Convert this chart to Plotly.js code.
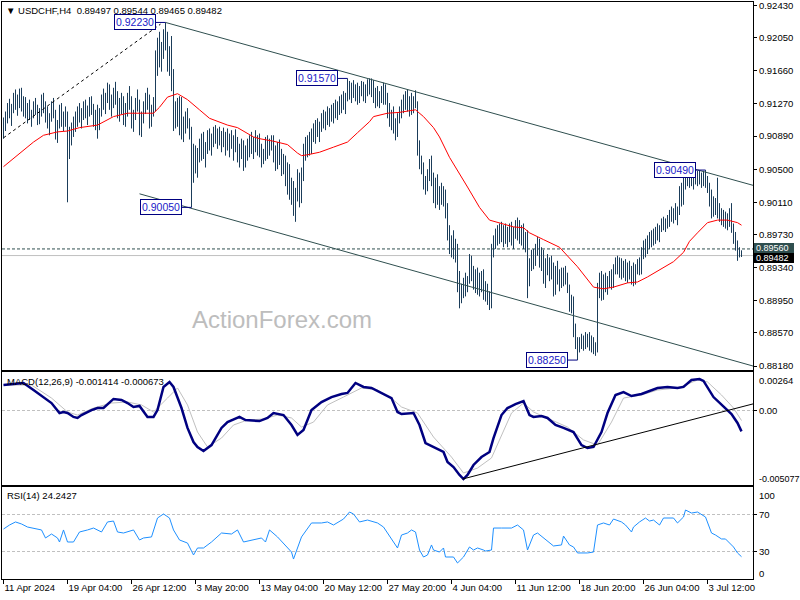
<!DOCTYPE html>
<html><head><meta charset="utf-8">
<script src="https://cdn.plot.ly/plotly-3.0.1.min.js"></script>
<style>html,body{margin:0;padding:0;background:#fff;}#chart{width:800px;height:600px;}</style>
</head><body><div id="chart"></div>
<script>
const symbol = "USDCHF,H4";
const open = [
.9090,.9105,.9112,.9122,.9115,.9120,.9135,.9125,.9130,.9140,
.9124,.9128,.9115,.9122,.9112,.9116,.9125,.9118,.9108,.9118,
.9130,.9122,.9110,.9102,.9112,.9125,.9114,.9092,.9104,.9120,
.9106,.9112,.9108,.9080,.9092,.9098,.9105,.9110,.9118,.9110,
.9115,.9124,.9116,.9120,.9128,.9118,.9106,.9114,.9100,.9118,
.9132,.9126,.9136,.9140,.9125,.9130,.9140,.9132,.9118,.9128,
.9122,.9110,.9124,.9132,.9126,.9104,.9115,.9128,.9124,.9100,
.9112,.9122,.9134,.9128,.9108,.9120,.9130,.9180,.9195,.9178,
.9192,.9205,.9200,.9172,.9185,.9150,.9110,.9120,.9108,.9125,
.9095,.9104,.9110,.9102,.9098,.9045,.9066,.9055,.9070,.9064,
.9085,.9070,.9078,.9088,.9080,.9086,.9094,.9088,.9092,.9084,
.9090,.9082,.9088,.9080,.9086,.9078,.9084,.9076,.9066,.9072,
.9068,.9058,.9070,.9076,.9080,.9074,.9082,.9078,.9084,.9070,
.9060,.9068,.9082,.9070,.9080,.9088,.9066,.9056,.9076,.9062,
.9050,.9060,.9036,.9050,.9022,.9030,.9004,.9020,.9040,.9015,
.9045,.9070,.9078,.9084,.9072,.9090,.9096,.9100,.9094,.9102,
.9110,.9104,.9114,.9108,.9118,.9112,.9122,.9116,.9126,.9120,
.9134,.9128,.9132,.9150,.9138,.9146,.9140,.9144,.9132,.9142,
.9148,.9136,.9144,.9150,.9142,.9150,.9134,.9140,.9128,.9136,
.9132,.9146,.9134,.9118,.9108,.9114,.9100,.9098,.9110,.9118,
.9126,.9130,.9136,.9124,.9130,.9120,.9132,.9126,.9072,.9060,
.9052,.9032,.9036,.9044,.9056,.9038,.9018,.9030,.9014,.9024,
.9016,.9022,.8998,.8972,.8960,.8966,.8952,.8958,.8912,.8898,
.8905,.8916,.8910,.8920,.8940,.8925,.8918,.8926,.8910,.8920,
.8912,.8904,.8912,.8898,.8895,.8955,.8966,.8974,.8970,.8980,
.8972,.8978,.8968,.8976,.8980,.8966,.8978,.8974,.8984,.8970,
.8978,.8962,.8970,.8920,.8938,.8948,.8940,.8956,.8962,.8942,
.8950,.8922,.8938,.8932,.8940,.8926,.8910,.8928,.8920,.8926,
.8916,.8928,.8920,.8910,.8890,.8896,.8860,.8846,.8840,.8846,
.8842,.8850,.8844,.8852,.8840,.8848,.8836,.8840,.8905,.8922,
.8902,.8918,.8912,.8918,.8924,.8914,.8932,.8940,.8934,.8940,
.8928,.8936,.8924,.8934,.8926,.8930,.8918,.8932,.8940,.8930,
.8952,.8960,.8954,.8966,.8962,.8972,.8966,.8978,.8972,.8980,
.8988,.8984,.8990,.8986,.8998,.8994,.9000,.8996,.9002,.9024,
.9012,.9036,.9042,.9036,.9040,.9034,.9040,.9038,.9044,.9036,
.9042,.9034,.9038,.9028,.9012,.9000,.9010,.9002,.9004,.8996,
.8990,.8996,.8986,.8992,.8988,.8980,.8968,.8960,.8950,.89497];
const high = [
.9111,.9118,.9128,.9133,.9127,.9140,.9144,.9138,.9145,.9146,
.9136,.9135,.9128,.9132,.9120,.9130,.9134,.9126,.9122,.9138,
.9140,.9130,.9124,.9116,.9130,.9134,.9120,.9108,.9126,.9128,
.9118,.9124,.9118,.9100,.9105,.9112,.9118,.9124,.9128,.9122,
.9130,.9132,.9125,.9135,.9136,.9127,.9120,.9126,.9122,.9138,
.9145,.9140,.9152,.9150,.9138,.9146,.9153,.9142,.9134,.9140,
.9136,.9128,.9140,.9148,.9136,.9120,.9134,.9144,.9132,.9118,
.9130,.9140,.9146,.9138,.9126,.9135,.9190,.9205,.9212,.9200,
.9215,.9223,.9212,.9195,.9207,.9168,.9130,.9134,.9136,.9135,
.9112,.9118,.9122,.9110,.9100,.9080,.9078,.9075,.9086,.9092,
.9094,.9082,.9096,.9098,.9092,.9100,.9102,.9098,.9100,.9095,
.9099,.9094,.9098,.9092,.9096,.9090,.9097,.9088,.9080,.9086,
.9084,.9078,.9086,.9090,.9094,.9088,.9096,.9090,.9092,.9080,
.9074,.9088,.9090,.9086,.9090,.9090,.9078,.9082,.9085,.9074,
.9068,.9066,.9058,.9056,.9040,.9036,.9028,.9050,.9046,.9052,
.9080,.9088,.9090,.9094,.9098,.9104,.9108,.9110,.9106,.9116,
.9120,.9118,.9124,.9122,.9126,.9128,.9132,.9130,.9136,.9138,
.9142,.9140,.9157,.9154,.9152,.9155,.9150,.9152,.9148,.9154,
.9153,.9150,.9156,.9157,.9157,.9155,.9146,.9148,.9142,.9148,
.9152,.9150,.9140,.9128,.9120,.9124,.9110,.9116,.9124,.9132,
.9138,.9142,.9144,.9136,.9140,.9136,.9143,.9130,.9084,.9066,
.9058,.9042,.9050,.9062,.9066,.9046,.9040,.9044,.9030,.9034,
.9030,.9026,.9010,.8984,.8972,.8978,.8968,.8962,.8930,.8915,
.8922,.8928,.8924,.8950,.8948,.8936,.8932,.8934,.8928,.8930,
.8932,.8918,.8915,.8906,.8962,.8972,.8980,.8984,.8986,.8988,
.8984,.8986,.8982,.8986,.8988,.8982,.8990,.8993,.8990,.8984,
.8986,.8976,.8978,.8945,.8955,.8956,.8962,.8970,.8968,.8958,
.8955,.8945,.8950,.8946,.8948,.8940,.8936,.8942,.8932,.8934,
.8934,.8936,.8928,.8914,.8902,.8900,.8868,.8852,.8852,.8856,
.8854,.8858,.8856,.8858,.8854,.8852,.8846,.8916,.8928,.8930,
.8926,.8928,.8924,.8930,.8932,.8938,.8946,.8948,.8946,.8945,
.8942,.8944,.8940,.8942,.8936,.8940,.8938,.8944,.8946,.8958,
.8966,.8968,.8972,.8976,.8978,.8980,.8982,.8986,.8984,.8992,
.8994,.8992,.8996,.9002,.9006,.9004,.9010,.9006,.9030,.9034,
.9040,.9048,.9048,.9046,.9048,.9044,.9047,.9048,.9048,.9046,
.9048,.9049,.9042,.9034,.9026,.9018,.9016,.9040,.9010,.9004,
.9002,.9000,.8998,.9004,.9010,.8986,.8976,.8966,.8958,.89544];
const low = [
.9086,.9095,.9104,.9110,.9101,.9116,.9120,.9113,.9122,.9118,
.9112,.9110,.9104,.9108,.9100,.9110,.9114,.9102,.9103,.9112,
.9116,.9105,.9098,.9090,.9106,.9110,.9085,.9081,.9098,.9100,
.9095,.9100,.9011,.9062,.9078,.9088,.9094,.9100,.9105,.9098,
.9108,.9110,.9102,.9112,.9114,.9100,.9096,.9086,.9096,.9112,
.9120,.9115,.9128,.9120,.9112,.9122,.9126,.9110,.9106,.9115,
.9102,.9100,.9112,.9120,.9098,.9094,.9108,.9118,.9090,.9088,
.9104,.9115,.9120,.9098,.9100,.9112,.9118,.9160,.9170,.9165,
.9180,.9190,.9165,.9160,.9142,.9095,.9098,.9100,.9090,.9085,
.9082,.9092,.9098,.9085,.9005,.9034,.9045,.9040,.9058,.9060,
.9062,.9052,.9068,.9072,.9066,.9076,.9080,.9074,.9078,.9070,
.9076,.9066,.9072,.9064,.9074,.9060,.9070,.9058,.9052,.9062,
.9048,.9052,.9060,.9064,.9068,.9062,.9070,.9066,.9064,.9052,
.9056,.9060,.9062,.9066,.9072,.9058,.9048,.9050,.9055,.9042,
.9044,.9030,.9020,.9014,.9008,.8995,.8988,.9012,.9005,.9010,
.9036,.9060,.9064,.9066,.9068,.9082,.9080,.9088,.9082,.9094,
.9098,.9096,.9102,.9100,.9106,.9104,.9110,.9108,.9114,.9116,
.9120,.9115,.9130,.9132,.9128,.9134,.9130,.9126,.9128,.9136,
.9130,.9128,.9136,.9138,.9135,.9128,.9122,.9124,.9122,.9128,
.9126,.9126,.9110,.9100,.9096,.9092,.9084,.9088,.9104,.9110,
.9116,.9120,.9118,.9112,.9114,.9116,.9122,.9066,.9050,.9044,
.9026,.9020,.9024,.9036,.9030,.9010,.9004,.9008,.9002,.9008,
.9006,.8992,.8966,.8950,.8946,.8944,.8940,.8905,.8886,.8892,
.8898,.8900,.8905,.8915,.8918,.8908,.8904,.8902,.8900,.8905,
.8896,.8894,.8890,.8884,.8886,.8946,.8956,.8960,.8962,.8964,
.8958,.8962,.8958,.8964,.8960,.8956,.8968,.8966,.8962,.8960,
.8956,.8952,.8898,.8912,.8930,.8932,.8936,.8948,.8934,.8930,
.8915,.8910,.8925,.8918,.8920,.8900,.8902,.8914,.8906,.8910,
.8912,.8914,.8904,.8882,.8880,.8852,.8838,.8825,.8834,.8838,
.8836,.8838,.8840,.8836,.8834,.8832,.8830,.8834,.8898,.8895,
.8896,.8905,.8902,.8910,.8908,.8910,.8926,.8926,.8922,.8920,
.8922,.8918,.8916,.8920,.8914,.8912,.8914,.8926,.8925,.8926,
.8944,.8946,.8950,.8956,.8958,.8960,.8962,.8966,.8964,.8976,
.8978,.8976,.8980,.8982,.8988,.8986,.8990,.8984,.8996,.9006,
.9008,.9026,.9030,.9028,.9030,.9026,.9032,.9030,.9032,.9028,
.9030,.9028,.9022,.9006,.8992,.8994,.8996,.8992,.8988,.8984,
.8982,.8980,.8978,.8982,.8975,.8962,.8954,.8942,.8946,.89465];
const close = [
.9105,.9112,.9122,.9115,.9120,.9135,.9125,.9130,.9140,.9124,
.9128,.9115,.9122,.9112,.9116,.9125,.9118,.9108,.9118,.9130,
.9122,.9110,.9102,.9112,.9125,.9114,.9092,.9104,.9120,.9106,
.9112,.9108,.9080,.9092,.9098,.9105,.9110,.9118,.9110,.9115,
.9124,.9116,.9120,.9128,.9118,.9106,.9114,.9100,.9118,.9132,
.9126,.9136,.9140,.9125,.9130,.9140,.9132,.9118,.9128,.9122,
.9110,.9124,.9132,.9126,.9104,.9115,.9128,.9124,.9100,.9112,
.9122,.9134,.9128,.9108,.9120,.9130,.9180,.9195,.9178,.9192,
.9205,.9200,.9172,.9185,.9150,.9110,.9120,.9108,.9125,.9095,
.9104,.9110,.9102,.9098,.9045,.9066,.9055,.9070,.9064,.9085,
.9070,.9078,.9088,.9080,.9086,.9094,.9088,.9092,.9084,.9090,
.9082,.9088,.9080,.9086,.9078,.9084,.9076,.9066,.9072,.9068,
.9058,.9070,.9076,.9080,.9074,.9082,.9078,.9084,.9070,.9060,
.9068,.9082,.9070,.9080,.9088,.9066,.9056,.9076,.9062,.9050,
.9060,.9036,.9050,.9022,.9030,.9004,.9020,.9040,.9015,.9045,
.9070,.9078,.9084,.9072,.9090,.9096,.9100,.9094,.9102,.9110,
.9104,.9114,.9108,.9118,.9112,.9122,.9116,.9126,.9120,.9134,
.9128,.9132,.9150,.9138,.9146,.9140,.9144,.9132,.9142,.9148,
.9136,.9144,.9150,.9142,.9150,.9134,.9140,.9128,.9136,.9132,
.9146,.9134,.9118,.9108,.9114,.9100,.9098,.9110,.9118,.9126,
.9130,.9136,.9124,.9130,.9120,.9132,.9126,.9072,.9060,.9052,
.9032,.9036,.9044,.9056,.9038,.9018,.9030,.9014,.9024,.9016,
.9022,.8998,.8972,.8960,.8966,.8952,.8958,.8912,.8898,.8905,
.8916,.8910,.8920,.8940,.8925,.8918,.8926,.8910,.8920,.8912,
.8904,.8912,.8898,.8895,.8955,.8966,.8974,.8970,.8980,.8972,
.8978,.8968,.8976,.8980,.8966,.8978,.8974,.8984,.8970,.8978,
.8962,.8970,.8920,.8938,.8948,.8940,.8956,.8962,.8942,.8950,
.8922,.8938,.8932,.8940,.8926,.8910,.8928,.8920,.8926,.8916,
.8928,.8920,.8910,.8890,.8896,.8860,.8846,.8840,.8846,.8842,
.8850,.8844,.8852,.8840,.8848,.8836,.8840,.8905,.8922,.8902,
.8918,.8912,.8918,.8924,.8914,.8932,.8940,.8934,.8940,.8928,
.8936,.8924,.8934,.8926,.8930,.8918,.8932,.8940,.8930,.8952,
.8960,.8954,.8966,.8962,.8972,.8966,.8978,.8972,.8980,.8988,
.8984,.8990,.8986,.8998,.8994,.9000,.8996,.9002,.9024,.9012,
.9036,.9042,.9036,.9040,.9034,.9040,.9038,.9044,.9036,.9042,
.9034,.9038,.9028,.9012,.9000,.9010,.9002,.9004,.8996,.8990,
.8996,.8986,.8992,.8988,.8980,.8968,.8960,.8950,.89497,.89482];

// moving average (bar index, price)
const maX = [0,5,10,15,20,27,32,38,47,55,62,70,75,78,82,87,92,98,103,112,117,125,128,135,142,147,149,152,158,165,172,177,183,185,192,198,206,210,215,218,223,232,238,243,248,255,260,263,270,278,287,295,300,305,312,317,322,328,335,340,343,347,352,357,362,367,369];
const maY = [0.9053,0.9063,0.9073,0.9082,0.9090,0.9094,0.9095,0.9099,0.9102,0.9112,0.9116,0.9116,0.9116,0.9123,0.9135,0.9139,0.9132,0.9120,0.9110,0.9102,0.9099,0.9088,0.9086,0.9083,0.9079,0.9069,0.9066,0.9067,0.9070,0.9076,0.9082,0.9093,0.9106,0.9112,0.9116,0.9117,0.9120,0.9112,0.9099,0.9088,0.9064,0.9029,0.9005,0.8990,0.8987,0.8982,0.8981,0.8975,0.8967,0.8958,0.8935,0.8911,0.8909,0.8911,0.8916,0.8917,0.8923,0.8931,0.8941,0.8952,0.8965,0.8975,0.8987,0.8990,0.8990,0.8987,0.8984];

const macdX = [0,5,10,15,20,24,28,30,32,35,37,39,44,47,50,55,59,62,65,68,72,75,77,80,83,85,89,92,95,97,100,104,109,112,118,121,128,132,135,140,144,147,150,154,159,164,169,172,176,180,184,189,194,197,199,205,208,211,215,220,222,225,228,230,232,235,239,243,245,249,252,256,260,263,265,269,272,276,280,285,289,292,295,299,302,306,310,314,319,324,327,332,337,340,344,348,350,355,359,364,367,369];
const macdY = [0.00175,0.00180,0.00189,0.00141,0.00093,0.00052,-0.00016,-0.00009,-0.00016,-0.00043,-0.00050,-0.00030,0.00004,0.00018,0.00018,0.00080,0.00073,0.00052,0.00025,0.00032,-0.00043,-0.00043,0.00004,0.00162,0.00196,0.00162,0.00018,-0.00118,-0.00214,-0.00248,-0.00276,-0.00235,-0.00118,-0.00078,-0.00043,-0.00064,-0.00071,-0.00050,-0.00016,-0.00030,-0.00098,-0.00166,-0.00132,0.00004,0.00059,0.00093,0.00114,0.00121,0.00189,0.00162,0.00155,0.00121,0.00086,-0.00009,-0.00023,-0.00016,-0.00098,-0.00221,-0.00248,-0.00282,-0.00351,-0.00385,-0.00439,-0.00467,-0.00439,-0.00371,-0.00317,-0.00282,-0.00187,-0.00030,0.00018,0.00045,0.00066,-0.00030,-0.00043,-0.00037,-0.00050,-0.00098,-0.00118,-0.00146,-0.00235,-0.00255,-0.00248,-0.00146,-0.00016,0.00107,0.00127,0.00100,0.00114,0.00141,0.00155,0.00162,0.00155,0.00162,0.00209,0.00216,0.00203,0.00093,0.00039,-0.00023,-0.00084,-0.001414];
const sigX = [0,14,24,32,37,45,54,62,69,75,82,87,92,97,102,109,115,122,130,137,144,149,155,162,170,179,187,195,199,207,215,224,230,237,244,249,254,260,265,274,282,290,297,304,310,319,327,337,347,352,359,365,369];
const sigY = [0.00175,0.00175,0.00086,-0.00009,-0.00030,0.00018,0.00052,0.00059,0.00039,-0.00009,0.00086,0.00155,0.00039,-0.00146,-0.00248,-0.00187,-0.00098,-0.00064,-0.00057,-0.00030,-0.00050,-0.00112,-0.00078,0.00039,0.00093,0.00155,0.00141,0.00073,0.00025,-0.00016,-0.00180,-0.00317,-0.00426,-0.00392,-0.00323,-0.00166,-0.00016,0.00052,-0.00009,-0.00064,-0.00112,-0.00200,-0.00235,-0.00078,0.00086,0.00107,0.00141,0.00155,0.00209,0.00196,0.00107,0.00018,-0.000673];

const rsiX = [0,3,6,9,12,15,19,21,24,27,28,30,32,35,38,42,45,49,52,55,57,60,65,68,70,74,77,80,83,85,88,92,95,97,100,104,109,114,117,120,125,129,131,133,137,140,144,145,149,154,159,162,165,170,173,175,178,182,187,190,195,197,199,202,204,206,208,210,212,214,215,218,220,221,225,227,230,233,235,237,240,241,244,245,249,254,257,260,262,265,267,270,273,275,279,280,283,285,287,290,292,295,297,300,303,305,309,311,314,315,318,321,323,325,328,330,335,337,340,341,344,347,349,351,354,356,359,361,365,367,369];
const rsiY = [54.3,58.7,62.0,59.8,56.5,55.4,53.3,44.6,48.9,44.6,40.2,53.3,40.2,40.2,51.1,53.3,55.4,51.1,62.0,63.0,51.1,50.0,53.3,42.4,44.6,45.7,66.3,70.7,66.3,53.3,42.4,39.1,26.1,33.7,33.7,40.2,50.0,48.9,53.3,40.2,42.4,44.6,40.2,53.3,45.7,39.1,29.3,21.7,45.7,60.9,60.9,62.0,58.7,65.2,72.8,70.7,62.0,64.1,60.9,56.5,40.2,33.7,47.8,50.0,53.3,51.1,31.5,23.9,26.1,37.0,31.5,29.3,33.7,23.9,23.9,17.4,23.9,34.8,31.5,33.7,31.5,30.4,31.5,55.4,55.4,55.4,58.7,53.3,31.5,47.8,50.0,44.6,40.2,35.9,37.0,46.7,37.0,34.8,28.3,28.3,28.3,29.3,58.7,60.9,58.7,65.2,62.0,58.7,51.1,56.5,62.0,66.3,63.0,64.1,58.7,66.3,66.3,60.9,67.4,75.0,71.7,72.8,69.6,67.4,50.0,47.8,43.5,43.5,34.8,28.3,24.2427];

// trend lines drawn on the chart (bar index, value)
const upperX = [81, 374.75], upperY = [0.9223, 0.9031];
const lowerX = [68, 374.75], lowerY = [0.9021, 0.8818];
const dotX = [0, 78.5], dotY = [0.9087, 0.9221];
const macdTrendX = [229.5, 374.75], macdTrendY = [-0.00467, 0.00046];

const pivotIdx = [81, 172, 94, 287, 351];
const pivotPrice = [0.9223, 0.9157, 0.9005, 0.8825, 0.9049];
const levelDashed = 0.8956;
const lastBid = 0.89482;

const priceTicks = [0.9243,0.9205,0.9166,0.9127,0.9089,0.9050,0.9011,0.8973,0.8934,0.8895,0.8857,0.8818];
const macdTop = 0.00264, macdBottom = -0.005077;
const timeTickIdx = [0,32,64,96,128,160,192,224,256,288,320,352];
const timeTickText = ["11 Apr 2024","19 Apr 04:00","26 Apr 12:00","3 May 20:00","13 May 04:00","20 May 12:00","27 May 20:00","4 Jun 04:00","11 Jun 12:00","18 Jun 20:00","26 Jun 04:00","3 Jul 12:00"];

const FONT = 'Liberation Sans, Arial, sans-serif';
const barColor = '#1b3d5a';
const slate = '#2F4F4F';
const idx = close.map((_, i) => i);
const xRange = [-0.75, 374.75];
const n = close.length - 1;

const traces = [
  {type:'ohlc', x: idx, open: open, high: high, low: low, close: close, xaxis:'x', yaxis:'y',
   increasing:{line:{color:barColor,width:1}}, decreasing:{line:{color:barColor,width:1}}, tickwidth:0.15, hoverinfo:'skip'},
  {type:'scatter', mode:'lines', x: maX, y: maY, xaxis:'x', yaxis:'y', line:{color:'#ff0000', width:1}, hoverinfo:'skip'},
  {type:'scatter', mode:'lines', x: upperX, y: upperY, xaxis:'x', yaxis:'y', line:{color:slate, width:1}, hoverinfo:'skip'},
  {type:'scatter', mode:'lines', x: lowerX, y: lowerY, xaxis:'x', yaxis:'y', line:{color:slate, width:1}, hoverinfo:'skip'},
  {type:'scatter', mode:'lines', x: dotX, y: dotY, xaxis:'x', yaxis:'y', line:{color:'#000', width:1, dash:'3px,3px'}, hoverinfo:'skip'},
  {type:'scatter', mode:'lines', x: sigX, y: sigY, xaxis:'x2', yaxis:'y2', line:{color:'#c0c0c0', width:1}, hoverinfo:'skip'},
  {type:'scatter', mode:'lines', x: macdX, y: macdY, xaxis:'x2', yaxis:'y2', line:{color:'#000080', width:2.5}, hoverinfo:'skip'},
  {type:'scatter', mode:'lines', x: macdTrendX, y: macdTrendY, xaxis:'x2', yaxis:'y2', line:{color:'#000', width:1}, hoverinfo:'skip'},
  {type:'scatter', mode:'lines', x: rsiX, y: rsiY, xaxis:'x3', yaxis:'y3', line:{color:'#1e90ff', width:1}, hoverinfo:'skip'}
];

const axFont = {family: FONT, size: 9.5, color: '#000'};
const xBase = {domain:[0.0025, 0.94125], range: xRange, showgrid:false, zeroline:false, showline:true, mirror:true, linecolor:'#000', linewidth:1, fixedrange:true};
const yBase = {side:'right', showline:true, mirror:true, linecolor:'#000', linewidth:1, zeroline:false, ticks:'outside', ticklen:3, tickcolor:'#000', tickfont: axFont, fixedrange:true, ticklabeloverflow:'allow'};

const annotations = [];
pivotIdx.forEach((xi, k) => annotations.push({
  xref:'x', yref:'y', x: xi, y: pivotPrice[k], text: pivotPrice[k].toFixed(5),
  showarrow:true, arrowhead:0, arrowwidth:1, arrowcolor:'#000080', ax:-31, ay:0, standoff:0,
  bordercolor:'#000080', borderwidth:1, borderpad:1, bgcolor:'#ffffff',
  font:{family:FONT, size:10.5, color:'#2020c8'}
}));
const lastOHLC = [open[n], high[n], low[n], close[n]].map(v => v.toFixed(5)).join(' ');
annotations.push({xref:'paper', yref:'paper', x:4/800, y:1-10/600, xanchor:'left', yanchor:'middle', showarrow:false,
  text:'\u25BC ' + symbol + '\u00a0\u00a0' + lastOHLC, font:{family:FONT, size:9.5, color:'#000'}});
annotations.push({xref:'paper', yref:'paper', x:282/800, y:1-319/600, xanchor:'center', yanchor:'middle', showarrow:false,
  text:'ActionForex.com', font:{family:FONT, size:24, color:'#bdbdbd'}});
annotations.push({xref:'paper', yref:'paper', x:5/800, y:1-381/600, xanchor:'left', yanchor:'middle', showarrow:false,
  text:'MACD(12,26,9) ' + macdY[macdY.length-1].toFixed(6) + ' ' + sigY[sigY.length-1].toFixed(6), font:{family:FONT, size:9.5, color:'#000'}});
annotations.push({xref:'paper', yref:'paper', x:5/800, y:1-495/600, xanchor:'left', yanchor:'middle', showarrow:false,
  text:'RSI(14) ' + rsiY[rsiY.length-1].toFixed(4), font:{family:FONT, size:9.5, color:'#000'}});
// right side highlighted price labels (tight boxes drawn as shapes, white text on top)
annotations.push({xref:'paper', yref:'paper', x:756/800, y:1-247.8/600, xanchor:'left', yanchor:'middle', showarrow:false,
  borderpad:0, borderwidth:0, text: levelDashed.toFixed(5), font:{family:FONT, size:9, color:'#ffffff'}});
annotations.push({xref:'paper', yref:'paper', x:756/800, y:1-257.9/600, xanchor:'left', yanchor:'middle', showarrow:false,
  borderpad:0, borderwidth:0, text: lastBid.toFixed(5), font:{family:FONT, size:9, color:'#ffffff'}});
// indicator window scale labels
const sideLbl = (txt, py, sz) => ({xref:'paper', yref:'paper', x:757/800, y:1-py/600, xanchor:'left', yanchor:'middle', showarrow:false, text: txt, font:{family:FONT, size:sz, color:'#000'}});
annotations.push(sideLbl(macdTop.toFixed(5), 380, 9.5));
annotations.push(sideLbl(macdBottom.toFixed(6), 479, 9));
annotations.push(sideLbl('100', 495, 9.5));
annotations.push(sideLbl('0', 573, 9.5));

const layout = {
  width:800, height:600, margin:{l:0, r:0, t:0, b:0}, paper_bgcolor:'#fff', plot_bgcolor:'#fff',
  showlegend:false, dragmode:false, hovermode:false,
  xaxis: Object.assign({}, xBase, {anchor:'y', showticklabels:false, ticks:'', rangeslider:{visible:false}}),
  yaxis: Object.assign({}, yBase, {domain:[0.38333, 0.99667], anchor:'x', range:[0.88133, 0.92471],
    tickvals: priceTicks, ticktext: priceTicks.map(v => v.toFixed(5)), showgrid:false}),
  xaxis2: Object.assign({}, xBase, {anchor:'y2', showticklabels:false, ticks:''}),
  yaxis2: Object.assign({}, yBase, {domain:[0.19167, 0.38], anchor:'x2', range:[macdBottom, macdTop],
    tickvals:[0], ticktext:['0.00'], showgrid:true, gridcolor:'#c0c0c0', gridwidth:1, griddash:'3px,2px'}),
  xaxis3: Object.assign({}, xBase, {anchor:'y3', tickvals: timeTickIdx, ticktext: timeTickText, ticks:'outside', ticklen:4, tickcolor:'#000',
    tickfont: axFont, tickangle:0, ticklabelposition:'outside right', ticklabeloverflow:'allow'}),
  yaxis3: Object.assign({}, yBase, {domain:[0.035, 0.18833], anchor:'x3', range:[0, 100],
    tickvals:[30, 70], ticktext:['30','70'], showgrid:true, gridcolor:'#c0c0c0', gridwidth:1, griddash:'3px,2px'}),
  shapes: [
    {type:'line', xref:'x domain', yref:'y', x0:0, x1:1, y0:lastBid, y1:lastBid, line:{color:'#c0c0c0', width:1}, layer:'below'},
    {type:'line', xref:'x domain', yref:'y', x0:0, x1:1, y0:levelDashed, y1:levelDashed, line:{color:slate, width:1, dash:'3px,2px'}, layer:'below'},
    {type:'rect', xref:'paper', yref:'paper', x0:754/800, x1:794/800, y0:1-253/600, y1:1-243/600, fillcolor:slate, line:{width:0}, layer:'above'},
    {type:'rect', xref:'paper', yref:'paper', x0:754/800, x1:794/800, y0:1-263/600, y1:1-253/600, fillcolor:'#000000', line:{width:0}, layer:'above'}
  ],
  annotations: annotations
};

Plotly.newPlot('chart', traces, layout, {staticPlot:true, displayModeBar:false});
</script>
</body></html>
